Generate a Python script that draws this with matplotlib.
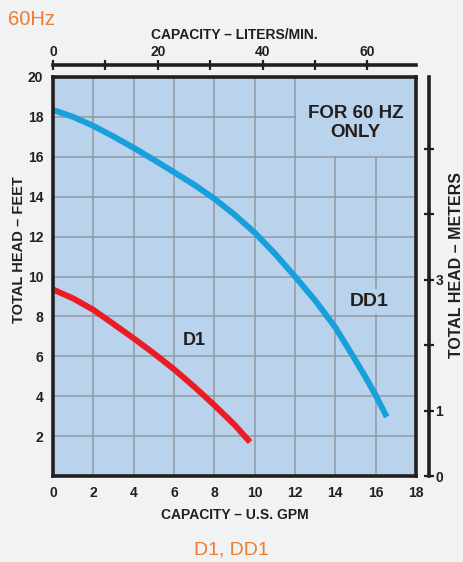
import matplotlib
matplotlib.use("Agg")
import matplotlib.pyplot as plt
from matplotlib.patches import Rectangle

# ---- data ----
dd1_gpm = [0, 1, 2, 3, 4, 5, 6, 7, 8, 9, 10, 11, 12, 13, 14, 15, 15.5, 16, 16.55]
dd1_ft = [18.35, 18.0, 17.55, 17.02, 16.45, 15.85, 15.23, 14.6, 13.9, 13.1,
          12.2, 11.15, 10.0, 8.8, 7.45, 5.8, 4.95, 4.05, 2.96]
d1_gpm = [0, 1, 2, 3, 4, 5, 6, 7, 8, 9, 9.77]
d1_ft = [9.35, 8.9, 8.33, 7.62, 6.9, 6.15, 5.35, 4.48, 3.55, 2.57, 1.7]

x_ticks = [0, 2, 4, 6, 8, 10, 12, 14, 16, 18]
y_ticks = [2, 4, 6, 8, 10, 12, 14, 16, 18, 20]
lpm_ticks = [0, 10, 20, 30, 40, 50, 60]
lpm_labels = ["0", "", "20", "", "40", "", "60"]
m_ticks = [0, 1, 2, 3, 4, 5]
m_labels = ["0", "1", "", "3", "", ""]

GPM_TO_LPM = 3.85
FT_PER_M = 3.281

plt.rcParams['font.family'] = ['Liberation Sans', 'DejaVu Sans']
plt.rcParams['font.weight'] = 'bold'
plt.rcParams['axes.labelweight'] = 'bold'

DARK = '#231f20'
BLUE_BG = '#b9d3ec'
GRID = '#939aa4'
ORANGE = '#f07a2e'

fig = plt.figure(figsize=(4.64, 5.62), dpi=100, facecolor='#f1f2f4')
ax = fig.add_axes([53 / 464, 1 - 476 / 562, (416 - 53) / 464, (476 - 77) / 562])
ax.set_facecolor(BLUE_BG)
ax.set_xlim(0, 18)
ax.set_ylim(0, 20)

ax.set_xticks(x_ticks)
ax.set_yticks(y_ticks)
ax.tick_params(axis='both', length=0, labelsize=10, colors=DARK, pad=7)
ax.grid(True, color=GRID, lw=1.1)
ax.set_axisbelow(True)
for s in ax.spines.values():
    s.set_linewidth(2.6)
    s.set_color(DARK)
    s.set_zorder(5)

# area without gridlines behind the note
ax.add_patch(Rectangle((12.06, 16.06), 18 - 12.06, 20 - 16.06,
                       facecolor=BLUE_BG, edgecolor='none', zorder=1))

ax.plot(dd1_gpm, dd1_ft, color='#199fdc', lw=4.3, solid_capstyle='butt',
        solid_joinstyle='round', zorder=3)
ax.plot(d1_gpm, d1_ft, color='#ec1c24', lw=4.3, solid_capstyle='butt',
        solid_joinstyle='round', zorder=3)

ax.text(15.0, 17.7, "FOR 60 HZ\nONLY", ha='center', va='center',
        fontsize=13.5, color=DARK, linespacing=1.2, zorder=4)
ax.text(15.7, 8.76, "DD1", ha='center', va='center', fontsize=14,
        color=DARK, zorder=4,
        bbox=dict(facecolor=BLUE_BG, edgecolor='none', pad=3))
ax.text(7.0, 6.8, "D1", ha='center', va='center', fontsize=13,
        color=DARK, zorder=4)

ax.set_xlabel("CAPACITY – U.S. GPM", fontsize=10, color=DARK, labelpad=6)
ax.set_ylabel("TOTAL HEAD – FEET", fontsize=10.5, color=DARK)
ax.yaxis.set_label_coords(-0.074, (476 - 250) / (476 - 77))

# top axis: liters/min
top = ax.secondary_xaxis('top', functions=(lambda g: g * GPM_TO_LPM,
                                            lambda l: l / GPM_TO_LPM))
top.spines['top'].set_position(('outward', 8.6))
top.spines['top'].set_linewidth(2.6)
top.spines['top'].set_color(DARK)
top.set_xticks(lpm_ticks)
top.set_xticklabels(lpm_labels)
top.tick_params(direction='inout', length=7, width=1.6, labelsize=10,
                colors=DARK, pad=1)
top.set_xlabel("CAPACITY – LITERS/MIN.", fontsize=10, color=DARK, labelpad=4)

# right axis: meters
right = ax.secondary_yaxis('right', functions=(lambda f: f / FT_PER_M,
                                                lambda m: m * FT_PER_M))
right.spines['right'].set_position(('outward', 9.4))
right.spines['right'].set_linewidth(2.6)
right.spines['right'].set_color(DARK)
right.set_yticks(m_ticks)
right.set_yticklabels(m_labels)
right.tick_params(direction='inout', length=7, width=1.6, labelsize=10,
                  colors=DARK, pad=1)

fig.text(457 / 464, 1 - 265 / 562, "TOTAL HEAD – METERS", fontsize=11.5,
         color=DARK, rotation=90, ha='center', va='center')
fig.text(8 / 464, 1 - 25 / 562, "60Hz", fontsize=14.5, fontweight='normal',
         color=ORANGE, ha='left', va='baseline')
fig.text(231 / 464, 1 - 550 / 562, "D1, DD1", fontsize=14, fontweight='normal',
         color=ORANGE, ha='center', va='center')

fig.savefig("out.png", dpi=100, facecolor=fig.get_facecolor())
